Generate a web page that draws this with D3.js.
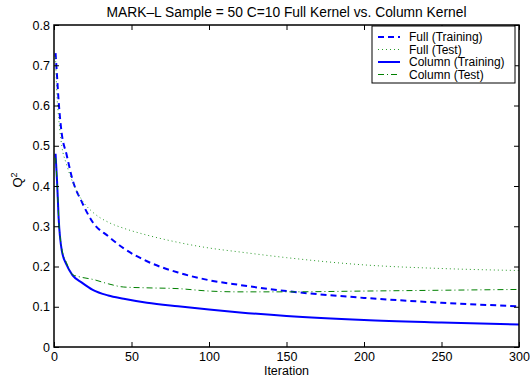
<!DOCTYPE html>
<html>
<head>
<meta charset="utf-8">
<script src="https://cdn.jsdelivr.net/npm/d3@7"></script>
<style>
body { margin: 0; background: #fff; }
text { font-family: "Liberation Sans", Arial, sans-serif; }
</style>
</head>
<body>
<div id="chart"></div>
<script>
var iterations = [1, 2, 3, 5, 8, 12, 18, 25, 35, 45, 60, 80, 100, 120, 150, 200, 250, 300];
var fullTraining = [0.73, 0.67, 0.61, 0.53, 0.48, 0.415, 0.36, 0.31, 0.275, 0.245, 0.213, 0.185, 0.166, 0.154, 0.139, 0.122, 0.11, 0.101];
var fullTest = [0.72, 0.62, 0.57, 0.5, 0.455, 0.41, 0.365, 0.335, 0.31, 0.295, 0.278, 0.26, 0.246, 0.236, 0.222, 0.204, 0.195, 0.19];
var columnTraining = [0.48, 0.41, 0.32, 0.24, 0.205, 0.178, 0.16, 0.142, 0.128, 0.12, 0.11, 0.101, 0.093, 0.086, 0.077, 0.067, 0.061, 0.056];
var columnTest = [0.47, 0.41, 0.32, 0.245, 0.21, 0.18, 0.173, 0.168, 0.157, 0.149, 0.147, 0.145, 0.139, 0.137, 0.137, 0.139, 0.141, 0.143];
var xTicks = [0, 50, 100, 150, 200, 250, 300];
var yTicks = [0, 0.1, 0.2, 0.3, 0.4, 0.5, 0.6, 0.7, 0.8];
var seriesNames = ["Full (Training)", "Full (Test)", "Column (Training)", "Column (Test)"];

var margin = {top: 25, right: 11, bottom: 32, left: 54},
    width = 530 - margin.left - margin.right,
    height = 379 - margin.top - margin.bottom;

var svg = d3.select("#chart").append("svg")
    .attr("width", 530)
    .attr("height", 379);
var g = svg.append("g")
    .attr("transform", "translate(" + margin.left + "," + margin.top + ")");

var x = d3.scaleLinear().domain([0, 300]).range([0, width]);
var y = d3.scaleLinear().domain([0, 0.8]).range([height, 0]);

// series styles
var styles = [
  {data: fullTraining, color: "#0000ff", width: 2, dash: "6,4"},
  {data: fullTest, color: "#2a9a2a", width: 1, dash: "1,3"},
  {data: columnTraining, color: "#0000ff", width: 2, dash: null},
  {data: columnTest, color: "#008000", width: 1, dash: "6,3,1,3"}
];

var line = d3.line()
    .x(function(d, i) { return x(iterations[i]); })
    .y(function(d) { return y(d); })
    .curve(d3.curveMonotoneX);

styles.forEach(function(s) {
  g.append("path")
    .datum(s.data)
    .attr("fill", "none")
    .attr("stroke", s.color)
    .attr("stroke-width", s.width)
    .attr("stroke-dasharray", s.dash)
    .attr("d", line);
});

// axes, ticks inward on all sides
function styleAxis(sel) {
  sel.select(".domain").remove();
  sel.selectAll("line").attr("stroke", "#000");
  sel.selectAll("text").attr("fill", "#000").style("font-size", "12.5px");
}
g.append("g").attr("transform", "translate(0," + height + ")")
  .call(d3.axisBottom(x).tickValues(xTicks).tickSize(-5).tickPadding(5).tickFormat(d3.format("d")))
  .call(styleAxis);
g.append("g")
  .call(d3.axisTop(x).tickValues(xTicks).tickSize(-5).tickFormat(""))
  .call(styleAxis);
g.append("g")
  .call(d3.axisLeft(y).tickValues(yTicks).tickSize(-5).tickPadding(4).tickFormat(function(d) { return d === 0 ? "0" : d3.format(".1f")(d); }))
  .call(styleAxis);
g.append("g").attr("transform", "translate(" + width + ",0)")
  .call(d3.axisRight(y).tickValues(yTicks).tickSize(-5).tickFormat(""))
  .call(styleAxis);

g.append("rect")
  .attr("width", width).attr("height", height)
  .attr("fill", "none").attr("stroke", "#000").attr("stroke-width", 1.5);

// title and labels
svg.append("text")
  .attr("x", margin.left + width / 2).attr("y", 17)
  .attr("text-anchor", "middle").style("font-size", "13.8px")
  .text("MARK\u2013L Sample = 50 C=10 Full Kernel vs. Column Kernel");
svg.append("text")
  .attr("x", margin.left + width / 2).attr("y", 375)
  .attr("text-anchor", "middle").style("font-size", "12.5px")
  .text("Iteration");
var yl = svg.append("text")
  .attr("transform", "translate(22,180) rotate(-90)")
  .attr("text-anchor", "middle").style("font-size", "13px");
yl.append("tspan").text("Q");
yl.append("tspan").attr("dy", -5).style("font-size", "9px").text("2");

// legend
var lg = svg.append("g").attr("transform", "translate(372,26)");
lg.append("rect").attr("width", 143).attr("height", 57)
  .attr("fill", "#fff").attr("stroke", "#000").attr("stroke-width", 1);
seriesNames.forEach(function(name, i) {
  var s = styles[i];
  var ly = 11 + i * 12.5;
  lg.append("line")
    .attr("x1", 6).attr("x2", 28).attr("y1", ly).attr("y2", ly)
    .attr("stroke", s.color).attr("stroke-width", s.width)
    .attr("stroke-dasharray", s.dash);
  lg.append("text").attr("x", 37).attr("y", ly + 4)
    .style("font-size", "12px").text(name);
});
</script>
</body>
</html>
